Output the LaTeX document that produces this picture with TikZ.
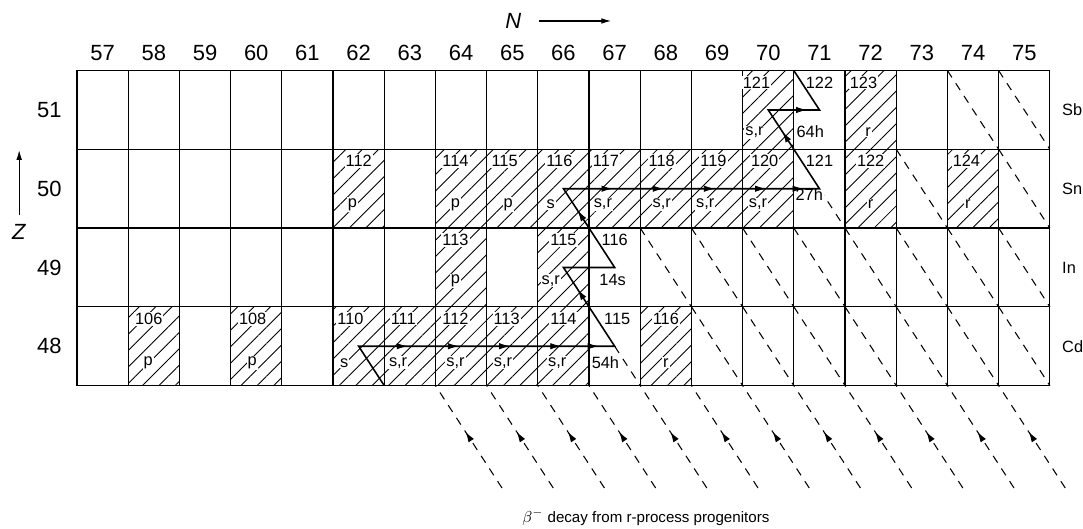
\documentclass[tikz,border=0pt]{standalone}
\usepackage{fontspec}
\setmainfont{Liberation Sans}
\usetikzlibrary{arrows.meta, patterns.meta, decorations.markings}

% mass number on top, origin tag below
\newcommand{\nuclide}[7]{%
  \node[masslabel] (m#1-#2) at (#1+#4,#2+0.35) {#3};
  \node[taglabel] (t#1-#2) at (#1+#6,#2+#7) {#5};}

\begin{document}
\begin{tikzpicture}[
        x=1.024cm, y=1.575cm,
        font=\fontsize{9.3}{11}\selectfont,
        cellbox/.style={
            draw,
            line width=0.7pt,
            minimum width=1.024cm,
            minimum height=1.575cm,
            inner sep=0pt, outer sep=0pt
        },
        hatch/.style={
            pattern={Lines[angle=45, distance=6.6pt, line width=0.5pt]}
        },
        betaline/.style={
            line width=0.6pt,
            dash pattern=on 4.6pt off 4pt
        },
        masslabel/.style={fill=white, inner sep=0.6pt},
        taglabel/.style={fill=white, inner sep=0.6pt},
        numlabel/.style={font=\fontsize{12.5}{14}\selectfont},
        rpath/.style={line width=0.9pt, line join=miter},
        flowtip/.style={
            postaction={decorate},
            decoration={markings,
                mark=at position #1 with {\arrow[solid]{Latex[length=6pt,width=3.6pt]}}}
        },
        axisarrow/.style={-{Latex[length=5.5pt,width=3.2pt]}, line width=0.6pt}
    ]

    \useasboundingbox (54.996,45.692) rectangle (76.148,52.397);

    % Grid cells
    \foreach \n in {57,...,75}
        \foreach \z in {48,...,51}
            \node[cellbox] (c\n-\z) at (\n,\z) {};

    % Stable nuclei (hatched)
    \foreach \n/\z in {70/51,72/51,
                       62/50,64/50,65/50,66/50,67/50,68/50,69/50,70/50,72/50,74/50,
                       64/49,66/49,
                       58/48,60/48,62/48,63/48,64/48,65/48,66/48,68/48}
        \path[hatch] (c\n-\z.south west) rectangle (c\n-\z.north east);

    % beta decay lines inside the chart
    \foreach \n/\z in {74/51,75/51,73/50,75/50,
                       68/49,69/49,70/49,71/49,72/49,73/49,74/49,75/49,
                       69/48,70/48,71/48,72/48,73/48,74/48,75/48}
        \draw[betaline] (c\n-\z.north west) -- (c\n-\z.south east);
    \draw[betaline] (c71-50.center) -- (c71-50.south east);
    \draw[betaline] (c67-48.center) -- (c67-48.south east);

    % r-process progenitors below the chart
    \foreach \n in {63,...,74} {
        \coordinate (e\n) at (\n+1.8,46.2);
        \draw[betaline, flowtip=0.55] (e\n) -- (c\n-48.south east);
    }

    % Sb
    \nuclide{70}{51}{121}{-0.23}{s,r}{-0.27}{-0.28}
    \nuclide{71}{51}{122}{0}{64h}{-0.18}{-0.28}
    \nuclide{72}{51}{123}{-0.14}{r}{-0.05}{-0.28}
    % Sn
    \nuclide{62}{50}{112}{0}{p}{-0.12}{-0.2}
    \nuclide{64}{50}{114}{-0.11}{p}{-0.11}{-0.2}
    \nuclide{65}{50}{115}{-0.15}{p}{-0.08}{-0.2}
    \nuclide{66}{50}{116}{-0.08}{s}{-0.25}{-0.2}
    \nuclide{67}{50}{117}{-0.17}{s,r}{-0.23}{-0.2}
    \nuclide{68}{50}{118}{-0.08}{s,r}{-0.08}{-0.2}
    \nuclide{69}{50}{119}{-0.07}{s,r}{-0.23}{-0.2}
    \nuclide{70}{50}{120}{-0.07}{s,r}{-0.2}{-0.2}
    \nuclide{71}{50}{121}{0}{27h}{-0.2}{-0.08}
    \nuclide{72}{50}{122}{0}{r}{0}{-0.2}
    \nuclide{74}{50}{124}{-0.13}{r}{-0.1}{-0.2}
    % In
    \nuclide{64}{49}{113}{-0.11}{p}{-0.11}{-0.17}
    \nuclide{66}{49}{115}{0}{s,r}{-0.25}{-0.17}
    \nuclide{67}{49}{116}{0}{14s}{-0.04}{-0.16}
    % Cd
    \nuclide{58}{48}{106}{-0.1}{p}{-0.11}{-0.21}
    \nuclide{60}{48}{108}{-0.07}{p}{-0.08}{-0.21}
    \nuclide{62}{48}{110}{-0.16}{s}{-0.28}{-0.21}
    \nuclide{63}{48}{111}{-0.13}{s,r}{-0.23}{-0.21}
    \nuclide{64}{48}{112}{-0.11}{s,r}{-0.11}{-0.21}
    \nuclide{65}{48}{113}{-0.11}{s,r}{-0.18}{-0.21}
    \nuclide{66}{48}{114}{0}{s,r}{-0.12}{-0.21}
    \nuclide{67}{48}{115}{0.05}{54h}{-0.18}{-0.21}
    \nuclide{68}{48}{116}{0}{r}{0}{-0.21}

    % s-process path
    \draw[rpath] (c62-48.south east) -- (c62-48.center) -- (c67-48.center)
        -- (c66-49.center) -- (c67-49.center) -- (c66-50.center)
        -- (c71-50.center) -- (c70-51.center) -- (c71-51.center)
        -- (c71-51.north west);
    \foreach \a/\b in {62/63,63/64,64/65,65/66}
        \path[flowtip=0.95] (c\a-48.center) -- (c\b-48.center);
    \path[flowtip=0.68] (c66-48.center) -- (c67-48.center);
    \foreach \a/\b in {66/67,67/68,68/69,69/70}
        \path[flowtip=0.95] (c\a-50.center) -- (c\b-50.center);
    \path[flowtip=0.68] (c70-50.center) -- (c71-50.center);
    \path[flowtip=0.75] (c70-51.center) -- (c71-51.center);
    \path[flowtip=0.72] (c67-48.center) -- (c66-49.center);
    \path[flowtip=0.72] (c67-49.center) -- (c66-50.center);
    \path[flowtip=0.72] (c71-50.center) -- (c70-51.center);

    % Axes
    \foreach \n in {57,...,75}
        \node[numlabel] (h\n) at (\n,51.72) {\n};
    \foreach \z/\el in {51/Sb,50/Sn,49/In,48/Cd} {
        \node[numlabel, anchor=east] (r\z) at (56.32,\z) {\z};
        \node[anchor=west] (el\z) at (75.62,\z) {\el};
    }
    \node[numlabel] (nlbl) at (65.02,52.13) {\textit{N}};
    \coordinate (ntip) at (66.93,52.13);
    \draw[axisarrow] ([xshift=0.24cm]nlbl.east) -- (ntip);
    \node[numlabel] (zlbl) at (55.37,49.45) {\textit{Z}};
    \coordinate (ztip) at (55.37,50.49);
    \draw[axisarrow] ([yshift=2pt]zlbl.north) -- (ztip);

    \node[font=\fontsize{8.6}{10}\selectfont] (caption) at (67.61,45.83)
        {$\beta^-$ decay from r-process progenitors};

\end{tikzpicture}
\end{document}
